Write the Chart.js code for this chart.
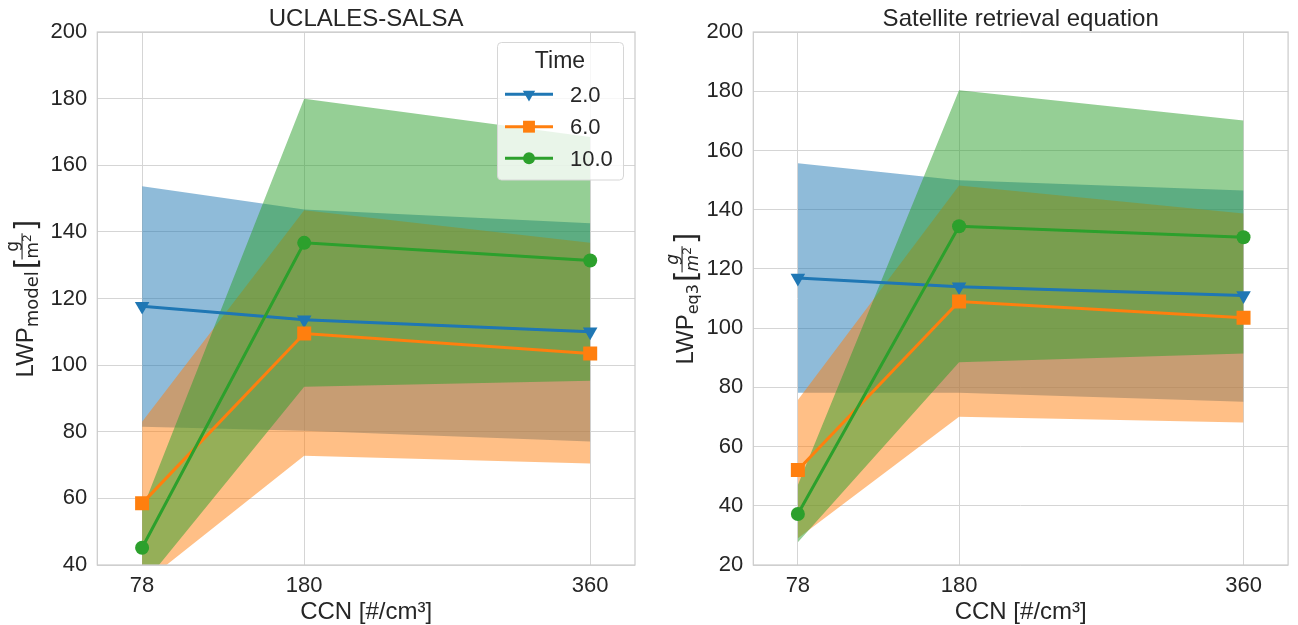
<!DOCTYPE html>
<html>
<head>
<meta charset="utf-8">
<script src="https://cdn.jsdelivr.net/npm/chart.js@4.4.1/dist/chart.umd.min.js"></script>
<style>
  html, body { margin: 0; padding: 0; background: #ffffff; }
  #wrap { position: relative; width: 1298px; height: 625px; }
  canvas { position: absolute; top: 0; }
  #cModel { left: 0; }
  #cEq3 { left: 649px; }
</style>
</head>
<body>
<div id="wrap">
  <canvas id="cModel" width="649" height="625"></canvas>
  <canvas id="cEq3" width="649" height="625"></canvas>
</div>
<script>
var ccn = [78, 180, 360];
var xTicks = [78, 180, 360];
var timeLabels = ["2.0", "6.0", "10.0"];
var yTicksModel = [40, 60, 80, 100, 120, 140, 160, 180, 200];
var yTicksEq3 = [20, 40, 60, 80, 100, 120, 140, 160, 180, 200];

// UCLALES-SALSA (model)
var modelMean2 = [117.7, 113.6, 110.0];
var modelLow2 = [81.5, 80.3, 77.1];
var modelHigh2 = [153.7, 146.7, 142.6];
var modelMean6 = [58.5, 109.5, 103.5];
var modelLow6 = [34.2, 72.8, 70.5];
var modelHigh6 = [83.0, 146.5, 136.7];
var modelMean10 = [45.2, 136.7, 131.4];
var modelLow10 = [33.8, 93.5, 95.3];
var modelHigh10 = [56.6, 180.0, 168.5];

// Satellite retrieval equation (eq3)
var eq3Mean2 = [116.9, 114.0, 111.0];
var eq3Low2 = [78.2, 78.2, 75.1];
var eq3High2 = [155.7, 149.9, 146.5];
var eq3Mean6 = [52.1, 109.0, 103.5];
var eq3Low6 = [29.0, 70.1, 68.1];
var eq3High6 = [75.7, 148.2, 138.7];
var eq3Mean10 = [37.2, 134.4, 130.7];
var eq3Low10 = [27.7, 88.5, 91.4];
var eq3High10 = [47.0, 180.3, 170.1];

var COLORS = ["#1f77b4", "#ff7f0e", "#2ca02c"];
var BANDS = ["rgba(31,119,180,0.5)", "rgba(255,127,14,0.5)", "rgba(44,160,44,0.5)"];
var MARKERS = [
  { style: "triangle", radius: 8.4, rotation: 180 },
  { style: "rect", radius: 9.9, rotation: 0 },
  { style: "circle", radius: 7, rotation: 0 }
];
var FONT = '"Liberation Sans", Arial, sans-serif';
var TEXT = "#262626";
var GRID = "#d5d5d5";

function pts(vals) {
  return vals.map(function (v, i) { return { x: ccn[i], y: v }; });
}

function buildDatasets(means, lows, highs) {
  var ds = [];
  for (var i = 0; i < 3; i++) {
    ds.push({
      data: pts(highs[i]), fill: "+1", backgroundColor: BANDS[i],
      borderColor: "rgba(0,0,0,0)", borderWidth: 0, pointRadius: 0, order: 30 - i * 10
    });
    ds.push({
      data: pts(lows[i]), fill: false, borderColor: "rgba(0,0,0,0)",
      borderWidth: 0, pointRadius: 0, order: 30 - i * 10
    });
  }
  for (var j = 0; j < 3; j++) {
    ds.push({
      label: timeLabels[j], data: pts(means[j]), fill: false,
      borderColor: COLORS[j], borderWidth: 3,
      pointStyle: MARKERS[j].style, pointRadius: MARKERS[j].radius,
      pointRotation: MARKERS[j].rotation, pointBackgroundColor: COLORS[j],
      pointBorderWidth: 0, pointHoverRadius: MARKERS[j].radius, order: 3 - j
    });
  }
  return ds;
}

function drawYLabel(ctx, baseX, centerY, sub, subSize, italic) {
  var fMain = "24px " + FONT;
  var fSub = subSize + 'px "DejaVu Sans", sans-serif';
  var fBr = '30px "DejaVu Sans", sans-serif';
  var fFrac = (italic ? "italic " : "") + '17px "DejaVu Sans", sans-serif';
  var fSup = '12px "DejaVu Sans", sans-serif';
  ctx.save();
  ctx.translate(baseX, centerY);
  ctx.rotate(-Math.PI / 2);
  ctx.fillStyle = TEXT;
  ctx.textAlign = "left";
  ctx.textBaseline = "alphabetic";
  ctx.font = fMain; var wMain = ctx.measureText("LWP").width;
  ctx.font = fSub; var wSub = ctx.measureText(sub).width;
  ctx.font = fBr; var wBr = ctx.measureText("[").width;
  ctx.font = fFrac; var wNum = ctx.measureText("g").width; var wM = ctx.measureText("m").width;
  ctx.font = fSup; var wSup = ctx.measureText("2").width;
  var wDen = wM + wSup;
  var fracW = Math.max(wNum, wDen) + 2;
  var total = wMain + wSub + 2 + wBr + fracW + wBr;
  var u = -total / 2;
  ctx.font = fMain; ctx.fillText("LWP", u, 0); u += wMain;
  ctx.font = fSub; ctx.fillText(sub, u, 5); u += wSub + 2;
  ctx.font = fBr; ctx.fillText("[", u, 3); u += wBr - 2;
  ctx.font = fFrac; ctx.fillText("g", u + (fracW - wNum) / 2, -15.5);
  ctx.fillRect(u, -11.8, fracW, 1.1);
  var dx = u + (fracW - wDen) / 2;
  ctx.fillText("m", dx, 5);
  ctx.font = fSup; ctx.fillText("2", dx + wM, -2.5);
  u += fracW + 2;
  ctx.font = fBr; ctx.fillText("]", u, 3);
  ctx.restore();
}

function decorPlugin(title, sub, subSize, italic, labelX, withLegend) {
  return {
    id: "decor",
    afterDatasetsDraw: function (chart) {
      var a = chart.chartArea, ctx = chart.ctx;
      ctx.save();
      ctx.strokeStyle = "#cccccc";
      ctx.lineWidth = 1.25;
      ctx.strokeRect(a.left, a.top, a.right - a.left, a.bottom - a.top);
      ctx.restore();
    },
    afterDraw: function (chart) {
      var a = chart.chartArea, ctx = chart.ctx;
      var cx = (a.left + a.right) / 2;
      ctx.save();
      ctx.fillStyle = TEXT;
      ctx.textAlign = "center";
      ctx.textBaseline = "alphabetic";
      ctx.font = "24px " + FONT;
      ctx.fillText(title, cx, 26);
      ctx.fillText("CCN [#/cm\u00b3]", cx, 619);
      ctx.restore();
      drawYLabel(ctx, labelX, (a.top + a.bottom) / 2, sub, subSize, italic);
      if (withLegend) drawLegend(ctx);
    }
  };
}

function drawLegend(ctx) {
  ctx.save();
  ctx.beginPath();
  ctx.roundRect(497.5, 42.5, 126, 137.5, 4);
  ctx.fillStyle = "rgba(255,255,255,0.8)";
  ctx.fill();
  ctx.strokeStyle = "#d6d6d6";
  ctx.lineWidth = 1;
  ctx.stroke();
  ctx.fillStyle = TEXT;
  ctx.textAlign = "center";
  ctx.font = "23px " + FONT;
  ctx.fillText("Time", 560, 68);
  var ys = [94.3, 126.7, 158.3];
  var bases = [101.7, 134.3, 165.5];
  for (var i = 0; i < 3; i++) {
    ctx.strokeStyle = COLORS[i];
    ctx.lineWidth = 3;
    ctx.beginPath();
    ctx.moveTo(505, ys[i]);
    ctx.lineTo(553, ys[i]);
    ctx.stroke();
    ctx.fillStyle = COLORS[i];
    Chart.helpers.drawPoint(ctx, {
      pointStyle: MARKERS[i].style, radius: MARKERS[i].radius * 0.85,
      rotation: MARKERS[i].rotation, borderWidth: 0
    }, 529, ys[i]);
    ctx.fillStyle = TEXT;
    ctx.textAlign = "left";
    ctx.font = "22px " + FONT;
    ctx.fillText(timeLabels[i], 570, bases[i]);
  }
  ctx.restore();
}

function makeChart(id, means, lows, highs, yTicks, yWidth, padRight, title, sub, subSize, italic, labelX, withLegend) {
  return new Chart(document.getElementById(id).getContext("2d"), {
    type: "line",
    data: { datasets: buildDatasets(means, lows, highs) },
    options: {
      responsive: false,
      animation: false,
      events: [],
      layout: { padding: { top: 32, right: padRight, bottom: 0, left: 0 } },
      plugins: {
        legend: { display: false },
        tooltip: { enabled: false },
        filler: { drawTime: "beforeDatasetsDraw" }
      },
      scales: {
        x: {
          type: "linear",
          min: 78 - 28.2,
          max: 360 + 28.2,
          afterBuildTicks: function (axis) {
            axis.ticks = xTicks.map(function (v) { return { value: v }; });
          },
          afterFit: function (axis) { axis.height = 60; },
          ticks: {
            callback: function (v) { return String(v); },
            color: TEXT, font: { size: 22, family: FONT }, padding: 8, maxRotation: 0, autoSkip: false
          },
          grid: { color: GRID, lineWidth: 1, drawTicks: false },
          border: { display: false }
        },
        y: {
          min: yTicks[0],
          max: yTicks[yTicks.length - 1],
          afterBuildTicks: function (axis) {
            axis.ticks = yTicks.map(function (v) { return { value: v }; });
          },
          afterFit: function (axis) { axis.width = yWidth; },
          ticks: {
            callback: function (v) { return String(v); },
            color: TEXT, font: { size: 22, family: FONT }, padding: 10, autoSkip: false
          },
          grid: { color: GRID, lineWidth: 1, drawTicks: false },
          border: { display: false }
        }
      }
    },
    plugins: [decorPlugin(title, sub, subSize, italic, labelX, withLegend)]
  });
}

makeChart("cModel",
  [modelMean2, modelMean6, modelMean10],
  [modelLow2, modelLow6, modelLow10],
  [modelHigh2, modelHigh6, modelHigh10],
  yTicksModel, 97.3, 14, "UCLALES-SALSA", "model", 18, false, 33.3, true);

makeChart("cEq3",
  [eq3Mean2, eq3Mean6, eq3Mean10],
  [eq3Low2, eq3Low6, eq3Low10],
  [eq3High2, eq3High6, eq3High10],
  yTicksEq3, 104.3, 7.7, "Satellite retrieval equation", "eq3", 16, true, 44.3, false);
</script>
</body>
</html>
